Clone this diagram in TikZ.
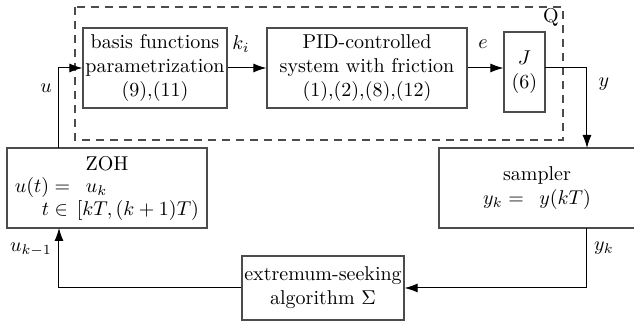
\documentclass[tikz,border=0pt]{standalone}
\usetikzlibrary{arrows.meta}
\begin{document}
\begin{tikzpicture}[x=0.5pt,y=-0.5pt,
  blk/.style={draw=black!70,line width=0.6pt,rectangle,align=center,inner sep=0pt,font=\normalsize},
  conn/.style={line width=0.5pt,-{Latex[length=6.5pt,width=4.5pt]}},
  lbl/.style={inner sep=0pt}]
\useasboundingbox (0,0) rectangle (634,324);
% dashed Q box
\draw[draw=black!70,line width=0.6pt,dash pattern=on 4pt off 3pt] (75,7) rectangle (563,140);
\node[lbl] (Q) at (551,17) {Q};
% blocks
\node[blk,minimum width=72pt,minimum height=40pt] (basis) at (155,68) {basis functions\\parametrization\\(9),(11)};
\node[blk,minimum width=100pt,minimum height=40pt] (pid) at (367,68) {PID-controlled\\system with friction\\(1),(2),(8),(12)};
\node[blk,minimum width=20.5pt,minimum height=40pt] (J) at (524.5,72) {$J$\\(6)};
\node[blk,minimum width=98pt,minimum height=40pt] (sampler) at (537,188) {sampler\\$y_k =\ \,y(kT)$};
\node[blk,minimum width=100pt,minimum height=40pt] (zoh) at (107,188) {%
  \begin{tabular}{@{}p{92pt}@{}}\hfill ZOH\hfill\null\\[-1pt] $u(t) =\ \,u_k$\\[-0.5pt] \hfill$t\in\, [kT,(k+1)T)$\end{tabular}};
\node[blk,minimum width=81pt,minimum height=32pt] (es) at (323,288) {extremum-seeking\\algorithm $\Sigma$};
% coordinates
\coordinate (zu) at (59,148);
\coordinate (zd) at (59,228);
\coordinate (jo) at (545,68);
\coordinate (si) at (587,148);
\coordinate (so) at (587,228);
% connectors
\draw[conn] (zu) |- (basis.west);
\draw[conn] (basis.east) -- (pid.west);
\draw[conn] (pid.east) -- (pid.east -| J.west);
\draw[conn] (jo) -| (si);
\draw[conn] (so) |- (es.east);
\draw[conn] (es.west) -| (zd);
% labels
\node[lbl] (lki) at (241,44) {$k_i$};
\node[lbl] (le) at (483,44) {$e$};
\node[lbl] (ly) at (604,84) {$y$};
\node[lbl] (lu) at (46,88) {$u$};
\node[lbl] (lyk) at (604,248) {$y_k$};
\node[lbl] (luk) at (31,250) {$u_{k-1}$};
\end{tikzpicture}
\end{document}
